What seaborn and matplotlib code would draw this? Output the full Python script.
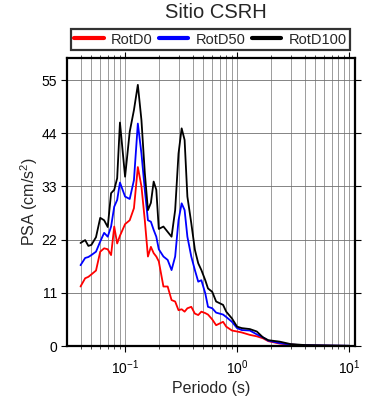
import numpy as np
import pandas as pd
import matplotlib
matplotlib.use("Agg")
import matplotlib.pyplot as plt
import seaborn as sns
from matplotlib.ticker import LogLocator, FixedLocator, NullFormatter
from matplotlib.lines import Line2D

periods = [0.04, 0.044, 0.047, 0.05, 0.055, 0.06, 0.065, 0.07, 0.075, 0.08, 0.085,
           0.09, 0.1, 0.11, 0.12, 0.13, 0.14, 0.15, 0.16, 0.17, 0.18, 0.19, 0.2,
           0.22, 0.24, 0.26, 0.28, 0.3, 0.32, 0.34, 0.36, 0.39, 0.42, 0.45, 0.48,
           0.52, 0.55, 0.6, 0.65, 0.75, 0.8, 0.9, 1.0, 1.1, 1.3, 1.5, 1.7, 1.9,
           2.4, 3.0, 4.0, 7.0, 10.0]
rotd100 = [21.3, 21.9, 20.7, 20.9, 22.5, 26.5, 26.0, 24.6, 31.6, 32.3, 34.7,
           46.2, 35.0, 44.3, 48.8, 54.0, 46.7, 35.8, 28.1, 29.6, 34.0, 32.3, 24.2,
           24.7, 23.6, 22.6, 28.1, 39.8, 45.0, 42.6, 30.9, 25.4, 19.9, 17.1, 15.7,
           13.6, 11.9, 11.2, 9.2, 8.5, 7.1, 5.7, 4.0, 3.7, 3.5, 3.0, 1.8, 1.2,
           0.9, 0.4, 0.2, 0.1, 0.05]
rotd50 = [16.7, 18.2, 18.4, 18.8, 19.5, 21.6, 23.4, 22.6, 24.7, 28.8, 30.2,
          33.8, 30.9, 30.4, 34.3, 46.0, 39.8, 32.3, 26.0, 25.7, 24.0, 22.6, 20.0,
          18.5, 17.8, 15.7, 18.5, 26.0, 29.5, 28.1, 22.6, 18.5, 15.7, 13.3, 13.6,
          10.9, 8.1, 7.8, 6.9, 6.5, 6.0, 5.0, 3.7, 3.3, 3.2, 2.4, 1.8, 1.1,
          0.6, 0.3, 0.15, 0.08, 0.04]
rotd0 = [12.3, 14.0, 14.3, 14.8, 15.6, 19.5, 20.2, 20.0, 18.8, 24.7, 21.2,
         22.8, 25.2, 26.0, 28.5, 37.0, 33.0, 26.0, 18.5, 20.5, 19.2, 18.5, 17.5,
         12.3, 12.3, 9.5, 9.2, 7.4, 7.6, 7.1, 7.8, 8.1, 6.7, 6.4, 7.1,
         6.8, 6.5, 5.5, 4.3, 5.0, 4.0, 3.2, 3.0, 2.8, 2.3, 2.0, 1.6, 1.0,
         0.5, 0.3, 0.12, 0.05, 0.02]
series_names = ["RotD0", "RotD50", "RotD100"]
y_ticks = [0, 11, 22, 33, 44, 55]
colors = ["#ff0000", "#0000ff", "#000000"]

df = pd.concat([
    pd.DataFrame({"Periodo": periods, "PSA": v, "Serie": n})
    for n, v in zip(series_names, [rotd0, rotd50, rotd100])
])

sns.set_style("ticks")
plt.rcParams['font.family'] = ['Liberation Sans', 'DejaVu Sans']
plt.rcParams['mathtext.fontset'] = 'custom'
plt.rcParams['mathtext.rm'] = 'Liberation Sans'
plt.rcParams['mathtext.it'] = 'Liberation Sans'

fig = plt.figure(figsize=(3.9, 4.0), dpi=100)
ax = fig.add_axes([0.1718, 0.135, 0.7385, 0.72])

sns.lineplot(data=df, x="Periodo", y="PSA", hue="Serie", hue_order=series_names,
             palette=colors, linewidth=1.3, ax=ax, legend=False, sort=False)

ax.set_xscale("log")
ax.set_xlim(0.0303, 11.3)
ax.set_ylim(0, 59.55)
ax.set_yticks(y_ticks)
ax.xaxis.set_major_locator(FixedLocator([0.1, 1, 10]))
ax.xaxis.set_minor_locator(LogLocator(base=10, subs=np.arange(2, 10), numticks=20))
ax.xaxis.set_minor_formatter(NullFormatter())

ax.grid(True, axis="x", which="both", color="#8c8c8c", linewidth=0.6)
ax.grid(True, axis="y", which="major", color="#707070", linewidth=0.6)
ax.set_axisbelow(True)

for s in ax.spines.values():
    s.set_linewidth(1.6)
    s.set_color("black")
    s.set_visible(True)

ax.tick_params(axis="both", which="major", direction="out", length=4, width=0.8,
               labelsize=10, colors="black", top=True, right=True,
               labeltop=False, labelright=False, pad=3)
ax.tick_params(axis="x", which="major", pad=5)
ax.tick_params(axis="x", which="minor", direction="out", length=2.5, width=0.6,
               top=True, bottom=True)

ax.set_xlabel("Periodo (s)", fontsize=11.5, labelpad=3)
ax.set_ylabel("PSA (cm/s$^2$)", fontsize=11.5, labelpad=1)
fig.text(0.5526, 0.968, "Sitio CSRH", ha="center", va="center", fontsize=14.5)

handles = [Line2D([], [], color=c, lw=3) for c in colors]
leg = fig.legend(handles, series_names, loc="center", bbox_to_anchor=(0.54, 0.901),
                 ncol=3, frameon=True, fancybox=False, fontsize=10.5,
                 handlelength=2.0, handletextpad=0.5, columnspacing=0.45,
                 borderpad=0.25, edgecolor="black")
leg.get_frame().set_linewidth(1.6)

fig.savefig("out.png", dpi=100)
